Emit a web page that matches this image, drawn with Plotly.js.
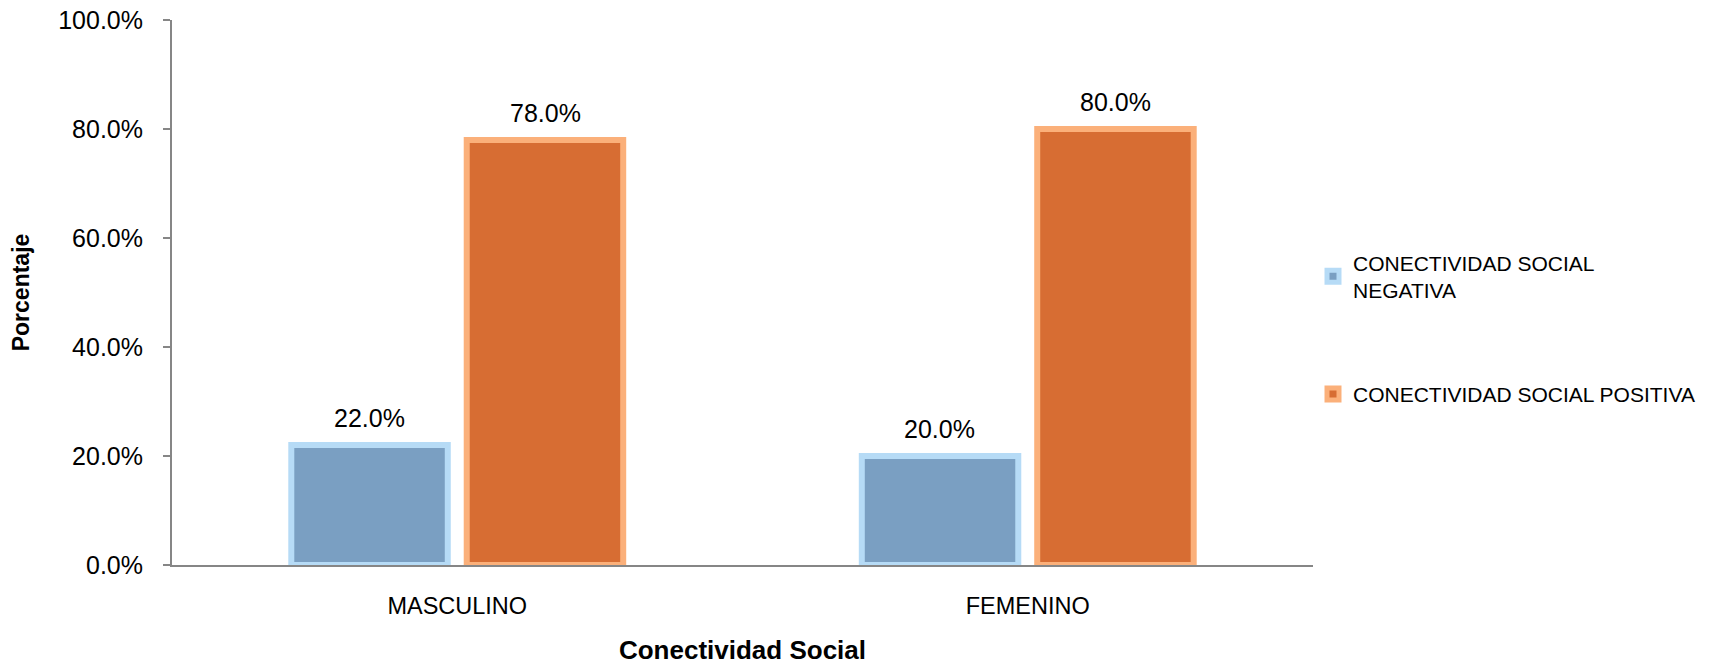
<!DOCTYPE html>
<html>
<head>
<meta charset="utf-8">
<script src="https://cdn.plot.ly/plotly-3.0.1.min.js"></script>
<style>html,body{margin:0;padding:0;background:#fff;}#chart{width:1712px;height:665px;}</style>
</head>
<body>
<div id="chart"></div>
<script>
const categories = ["MASCULINO", "FEMENINO"];
const seriesNames = ["CONECTIVIDAD SOCIAL<br>NEGATIVA", "CONECTIVIDAD SOCIAL POSITIVA"];
const negativa = [0.22, 0.20];
const positiva = [0.78, 0.80];
const yTickVals = [0, 0.2, 0.4, 0.6, 0.8, 1.0];

const FONT = "Liberation Sans, Arial, sans-serif";

const traces = [
  {
    type: "bar", x: categories, y: negativa, name: seriesNames[0], legendgroup: "a",
    marker: {color: "#7a9fc2", line: {color: "#b6dbf6", width: 6}},
    hoverinfo: "skip"
  },
  {
    type: "bar", x: categories, y: positiva, name: seriesNames[1], legendgroup: "b",
    marker: {color: "#d76d33", line: {color: "#fbb07a", width: 6}},
    hoverinfo: "skip"
  }
];

// value labels above bars, placed through the axis scales
const labelShift = 88;
const annotations = [];
[[negativa, -labelShift], [positiva, labelShift]].forEach(([vals, dx]) => {
  vals.forEach((v, i) => {
    annotations.push({
      x: categories[i], y: v, xref: "x", yref: "y",
      text: (v * 100).toFixed(1) + "%", showarrow: false,
      xshift: dx, yshift: 11, yanchor: "bottom",
      font: {family: FONT, size: 25, color: "#000"}
    });
  });
});

const layout = {
  width: 1712, height: 665,
  margin: {l: 172, r: 396, t: 20, b: 100},
  paper_bgcolor: "#fff", plot_bgcolor: "#fff",
  font: {family: FONT, size: 20, color: "#000"},
  barmode: "group", bargap: 0.385, bargroupgap: 0.108,
  showlegend: true,
  legend: {x: 1.0, xanchor: "left", y: 0.592, yanchor: "top", tracegroupgap: 74,
           font: {family: FONT, size: 21, color: "#000"}},
  annotations: annotations,
  xaxis: {
    showline: true, linecolor: "#868686", linewidth: 2, ticks: "", showgrid: false,
    ticklabelstandoff: 19, tickfont: {family: FONT, size: 23.5, color: "#000"},
    title: {text: "<b>Conectividad Social</b>", font: {family: FONT, size: 26, color: "#000"}, standoff: 30},
    automargin: false
  },
  yaxis: {
    range: [0, 1], tickvals: yTickVals, tickformat: ".1%",
    showline: true, linecolor: "#868686", linewidth: 2, ticks: "outside", ticklen: 7,
    tickcolor: "#868686", tickwidth: 2, showgrid: false, zeroline: false,
    ticklabelstandoff: 15,
    tickfont: {family: FONT, size: 25, color: "#000"},
    title: {text: "<b>Porcentaje</b>", font: {family: FONT, size: 23, color: "#000"}, standoff: 22},
    automargin: false
  }
};

Plotly.newPlot("chart", traces, layout, {displayModeBar: false, staticPlot: true});
</script>
</body>
</html>
